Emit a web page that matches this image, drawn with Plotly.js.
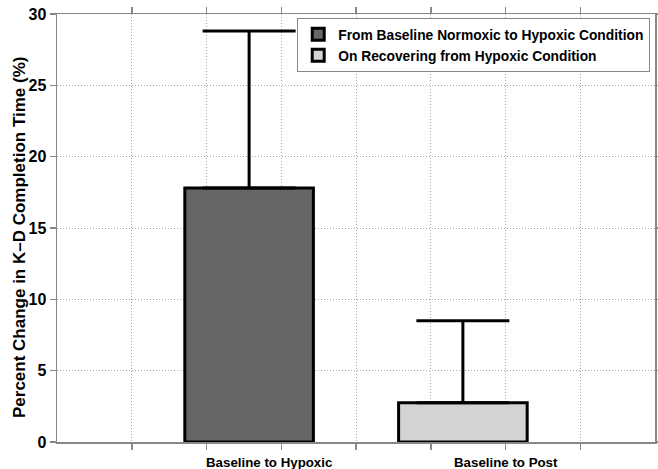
<!DOCTYPE html>
<html><head><meta charset="utf-8">
<script src="https://cdn.plot.ly/plotly-3.0.1.min.js"></script>
<style>html,body{margin:0;padding:0;background:#fff}#chart{width:658px;height:469px}</style>
</head><body><div id="chart"></div>
<script>
const seriesNames = ["From Baseline Normoxic to Hypoxic Condition", "On Recovering from Hypoxic Condition"];
const categories = ["Baseline to Hypoxic", "Baseline to Post"];
const barPositions = [2.57, 5.43];
const labelPositions = [2.84, 6.0];
const values = [17.8, 2.75];
const errorsPlus = [11.0, 5.75];
const colors = ["#666666", "#d3d3d3"];
const yTicks = [0, 5, 10, 15, 20, 25, 30];
const xGridTicks = [1, 2, 3, 4, 5, 6, 7];

const font = {family: "Liberation Sans, Arial, sans-serif", color: "#000", weight: 700};

const traces = values.map((v, i) => ({
  type: "bar",
  name: seriesNames[i],
  x: [barPositions[i]],
  y: [v],
  width: 1.72,
  marker: {color: colors[i], line: {color: "#000", width: 3}},
  error_y: {type: "data", symmetric: false, array: [errorsPlus[i]], arrayminus: [0],
            color: "#000", thickness: 3, width: 46.5},
  hoverinfo: "none"
}));

const annotations = categories.map((c, i) => ({
  text: c, x: labelPositions[i], xref: "x", y: 0, yref: "paper",
  yanchor: "top", yshift: -11, showarrow: false,
  font: Object.assign({}, font, {size: 13.3})
}));
annotations.push({
  text: "Percent Change in K\u2013D Completion Time (%)",
  x: 0, xref: "paper", xshift: -38, y: 0.5, yref: "paper", yshift: -10,
  textangle: -90, showarrow: false, xanchor: "center", yanchor: "middle",
  font: Object.assign({}, font, {size: 17})
});

const layout = {
  width: 658, height: 469,
  margin: {l: 57, r: 3, t: 14, b: 27, autoexpand: false},
  paper_bgcolor: "#fff", plot_bgcolor: "#fff",
  showlegend: true,
  legend: {x: 0.992, y: 0.991, xanchor: "right", yanchor: "top",
           bgcolor: "#fff", bordercolor: "#888", borderwidth: 1,
           font: Object.assign({}, font, {size: 13.8}),
           tracegroupgap: 0, itemwidth: 30},
  xaxis: {range: [0, 8], tickvals: xGridTicks, showticklabels: false,
          showgrid: true, gridcolor: "#a8a8a8", griddash: "1px,2px", gridwidth: 1,
          zeroline: false, showline: true, linecolor: "#888", linewidth: 1.5, mirror: "ticks",
          ticks: "outside", ticklen: 6, tickcolor: "#888", tickwidth: 1.5, fixedrange: true},
  yaxis: {range: [0, 30], tickvals: yTicks,
          showgrid: true, gridcolor: "#a8a8a8", griddash: "1px,2px", gridwidth: 1,
          zeroline: false, showline: true, linecolor: "#888", linewidth: 1.5, mirror: "ticks",
          ticks: "outside", ticklen: 6, tickcolor: "#888", tickwidth: 1.5,
          tickfont: Object.assign({}, font, {size: 16}), fixedrange: true},
  annotations: annotations
};

Plotly.newPlot("chart", traces, layout, {displayModeBar: false, staticPlot: true});
</script></body></html>
